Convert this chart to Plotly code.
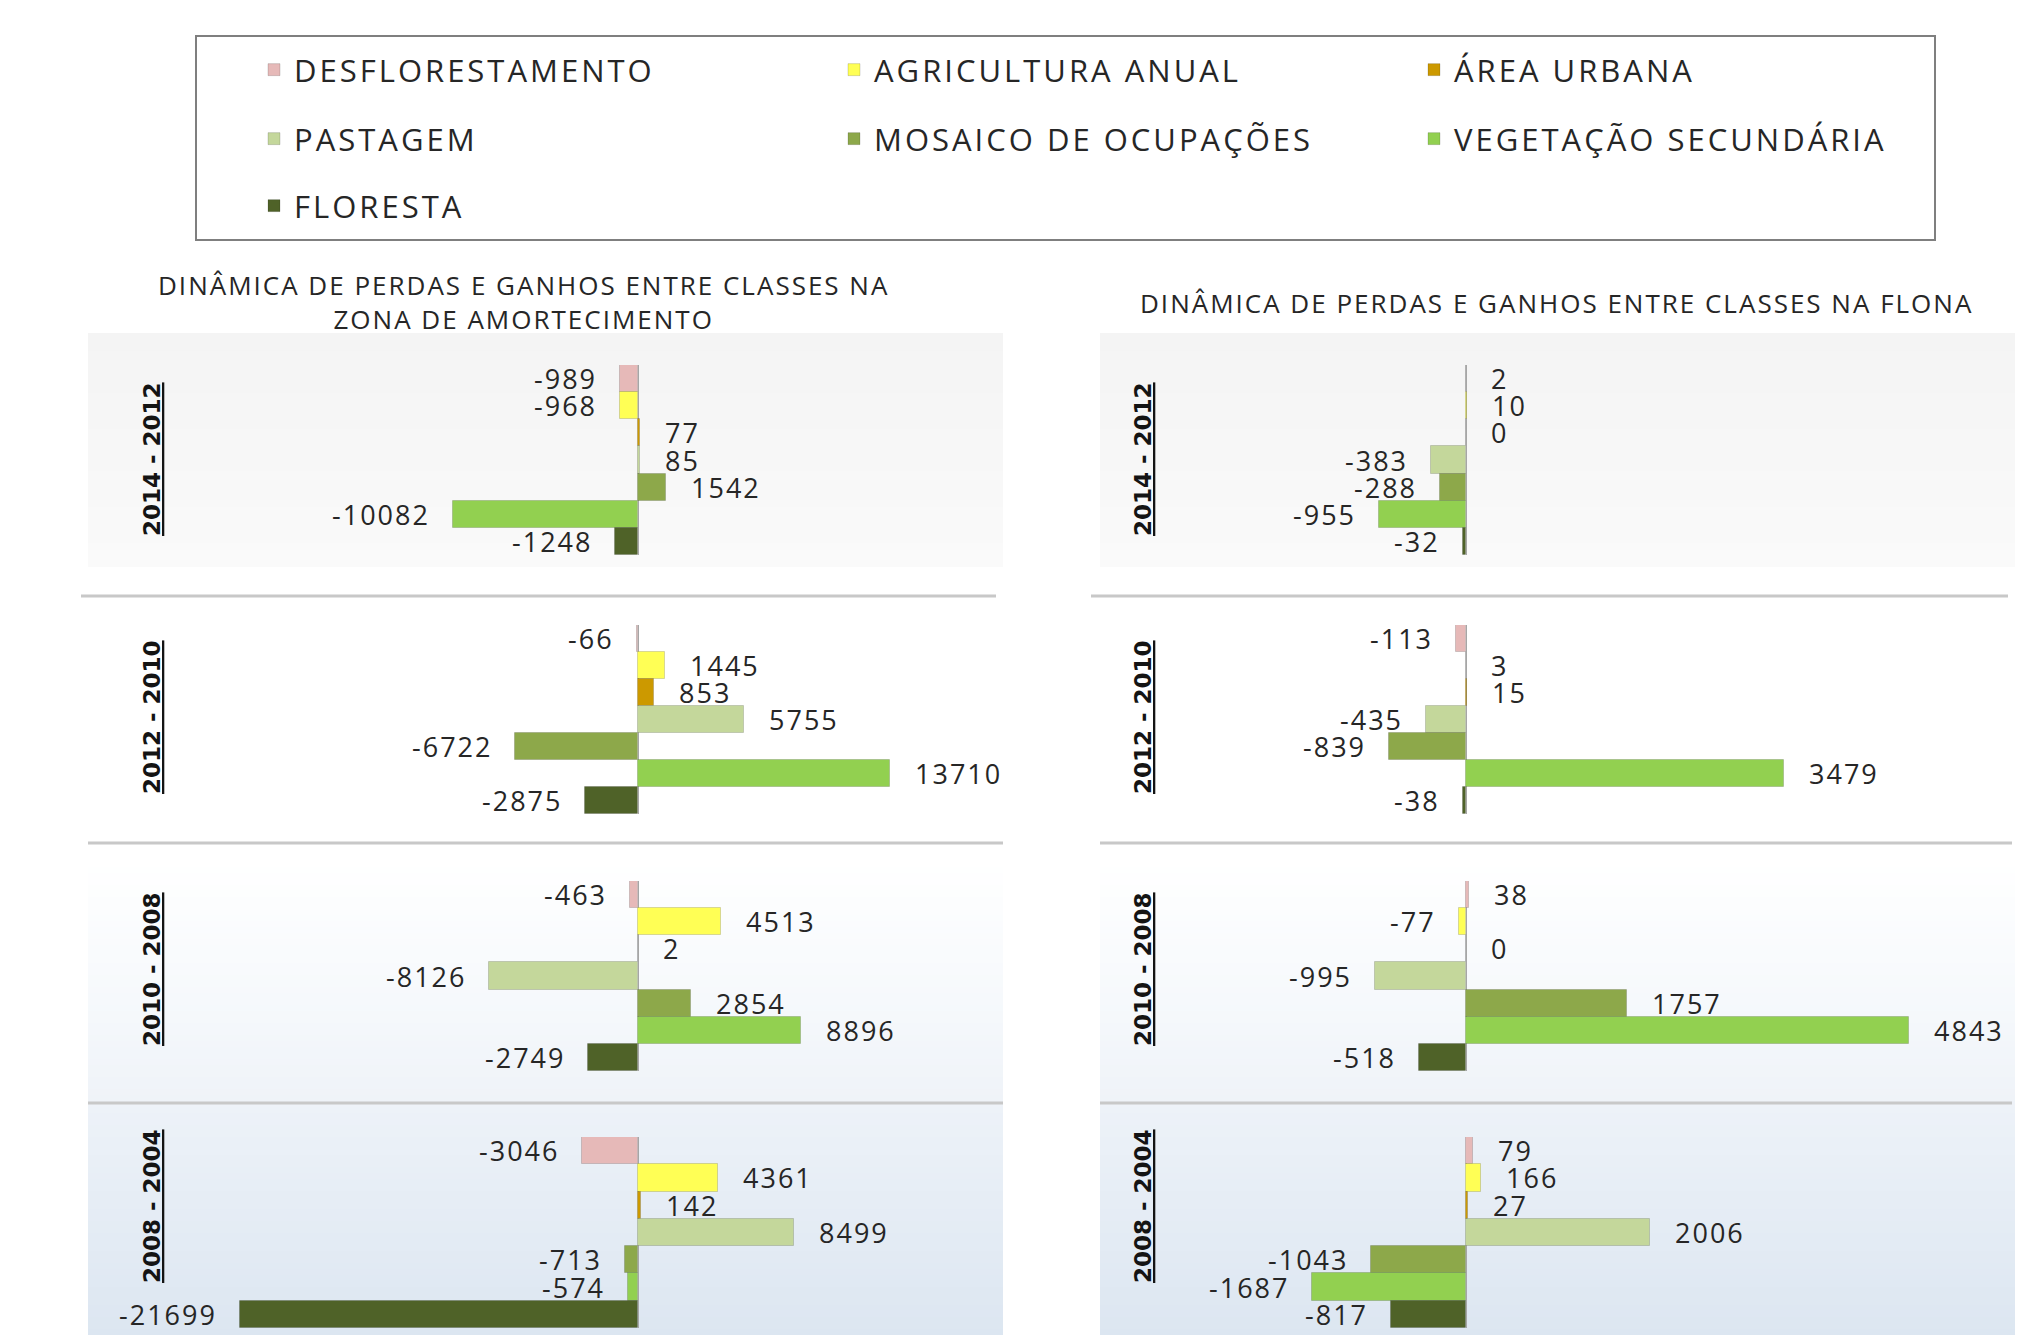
import plotly.graph_objects as go

# ---------------- data ----------------
categories = ["DESFLORESTAMENTO", "AGRICULTURA ANUAL", "ÁREA URBANA", "PASTAGEM",
              "MOSAICO DE OCUPAÇÕES", "VEGETAÇÃO SECUNDÁRIA", "FLORESTA"]
periods = ["2014 - 2012", "2012 - 2010", "2010 - 2008", "2008 - 2004"]

za_2014_2012 = [-989, -968, 77, 85, 1542, -10082, -1248]
za_2012_2010 = [-66, 1445, 853, 5755, -6722, 13710, -2875]
za_2010_2008 = [-463, 4513, 2, -8126, 2854, 8896, -2749]
za_2008_2004 = [-3046, 4361, 142, 8499, -713, -574, -21699]

flona_2014_2012 = [2, 10, 0, -383, -288, -955, -32]
flona_2012_2010 = [-113, 3, 15, -435, -839, 3479, -38]
flona_2010_2008 = [38, -77, 0, -995, 1757, 4843, -518]
flona_2008_2004 = [79, 166, 27, 2006, -1043, -1687, -817]

title_za = "DINÂMICA DE PERDAS E GANHOS ENTRE CLASSES NA<br>ZONA DE AMORTECIMENTO"
title_flona = "DINÂMICA DE PERDAS E GANHOS ENTRE CLASSES NA FLONA"

colors = ["#e6b9b8", "#ffff55", "#cc9900", "#c4d79b", "#8da84a", "#92d050", "#4f6228"]

za_series = [za_2014_2012, za_2012_2010, za_2010_2008, za_2008_2004]
flona_series = [flona_2014_2012, flona_2012_2010, flona_2010_2008, flona_2008_2004]

# ---------------- layout geometry (page pixels) ----------------
OFF = 8                      # default body margin of the html page
W, H = 2025 - OFF, 1336 - OFF
row_px = [(365, 555), (625, 814), (881, 1071), (1137, 1328)]
col_px = [(88, 1005), (1100, 2015)]
col_range = [[-30000, 20000], [-4000, 6000]]
year_x = [152, 1143]
year_y = [459, 717, 969, 1206]


def px(x):
    return (x - OFF) / W


def py(y):
    return 1 - (y - OFF) / H


fig = go.Figure()
layout_axes = {}
annotations = []
legend_of = {0: "legend", 1: "legend", 2: "legend", 3: "legend2", 4: "legend2", 5: "legend2", 6: "legend3"}

label_font = dict(family="Open Sans, sans-serif", size=27, color="#262626")
LS = 2

idx = 0
for c, series_list in enumerate([za_series, flona_series]):
    for r, vals in enumerate(series_list):
        idx += 1
        xa = "x" if idx == 1 else f"x{idx}"
        ya = "y" if idx == 1 else f"y{idx}"
        for k, cat in enumerate(categories):
            fig.add_trace(go.Bar(
                x=[vals[k]], y=[cat], orientation="h",
                marker=dict(color=colors[k], line=dict(color="rgba(0,0,0,0.15)", width=1)),
                name=f'<span style="letter-spacing:3px">{cat}</span>',
                legendgroup=cat, showlegend=(idx == 1), legend=legend_of[k],
                xaxis=xa, yaxis=ya, hovertemplate=f"{cat}: %{{x}}<extra></extra>",
            ))
            v = vals[k]
            annotations.append(dict(
                x=v, y=cat, xref=xa, yref=ya, showarrow=False,
                text=f'<span style="letter-spacing:{LS}px">{v}</span>',
                xanchor="left" if v >= 0 else "right",
                xshift=24 if v >= 0 else -22,
                borderpad=0,
                font=label_font,
            ))
        x0, x1 = col_px[c]
        y0, y1 = row_px[r]
        layout_axes["xaxis" if idx == 1 else f"xaxis{idx}"] = dict(
            domain=[px(x0), px(x1)], range=col_range[c], anchor=ya,
            showgrid=False, showticklabels=False, ticks="",
            zeroline=True, zerolinecolor="#a6a6a6", zerolinewidth=1,
            showline=False, fixedrange=True,
        )
        layout_axes["yaxis" if idx == 1 else f"yaxis{idx}"] = dict(
            domain=[py(y1), py(y0)], type="category", categoryorder="array",
            categoryarray=categories, range=[6.5, -0.5], anchor=xa,
            showgrid=False, showticklabels=False, ticks="", zeroline=False,
            showline=False, fixedrange=True,
        )

# year labels
for c in range(2):
    for r, p in enumerate(periods):
        annotations.append(dict(
            x=px(year_x[c]), y=py(year_y[r]), xref="paper", yref="paper",
            text=f"<u>{p}</u>", textangle=-90, showarrow=False,
            xanchor="center", yanchor="middle",
            font=dict(family="DejaVu Sans, sans-serif", size=23, color="#141414", weight="bold"),
        ))

# titles
title_font = dict(family="Open Sans, sans-serif", size=26, color="#262626")
sp = '<span style="letter-spacing:2px">'
annotations.append(dict(
    x=px(523), y=py(302), xref="paper", yref="paper", showarrow=False,
    text=sp + title_za.replace("<br>", "</span><br>" + sp) + "</span>",
    xanchor="center", yanchor="middle", align="center", font=title_font,
))
annotations.append(dict(
    x=px(1556), y=py(303), xref="paper", yref="paper", showarrow=False,
    text=sp + title_flona + "</span>",
    xanchor="center", yanchor="middle", font=title_font,
))

# ---------------- background gradient & separators ----------------
stops = [(333, (244, 244, 244)), (565, (250, 250, 250)), (570, (255, 255, 255)),
         (860, (255, 255, 255)), (1000, (246, 249, 252)), (1100, (239, 243, 248)),
         (1106, (237, 242, 248)), (1336, (220, 230, 241))]


def grad(y):
    for (ya_, ca), (yb, cb) in zip(stops[:-1], stops[1:]):
        if ya_ <= y <= yb:
            t = (y - ya_) / (yb - ya_) if yb > ya_ else 0
            return "rgb(%d,%d,%d)" % tuple(round(a + (b - a) * t) for a, b in zip(ca, cb))
    return "rgb(255,255,255)"


shapes = []
bg_cols = [(88, 1003), (1100, 2015)]
step = 6
for (bx0, bx1) in bg_cols:
    for y in range(333, 1336, step):
        shapes.append(dict(type="rect", xref="paper", yref="paper", layer="below",
                           x0=px(bx0), x1=px(bx1), y0=py(min(y + step, 1336)), y1=py(y),
                           fillcolor=grad(y + step / 2), line=dict(width=0)))

sep_y = [596, 843, 1103]
sep_x = [[(81, 996), (88, 1003), (88, 1003)], [(1091, 2008), (1100, 2012), (1100, 2012)]]
for c in range(2):
    for i, y in enumerate(sep_y):
        sx0, sx1 = sep_x[c][i]
        shapes.append(dict(type="line", xref="paper", yref="paper", layer="below",
                           x0=px(sx0), x1=px(sx1), y0=py(y), y1=py(y),
                           line=dict(color="#c8c8c8", width=3)))

# legend box
shapes.append(dict(type="rect", xref="paper", yref="paper",
                   x0=px(196), x1=px(1935), y0=py(240), y1=py(36),
                   line=dict(color="#7f7f7f", width=2), fillcolor="rgba(0,0,0,0)"))

legend_common = dict(orientation="h", xanchor="left", yanchor="middle",
                     entrywidth=535, entrywidthmode="pixels",
                     bgcolor="rgba(0,0,0,0)", borderwidth=0,
                     font=dict(family="Open Sans, sans-serif", size=31, color="#262626"),
                     itemclick=False, itemdoubleclick=False, traceorder="normal")

LX = 254
fig.update_layout(
    width=W, height=H,
    margin=dict(l=0, r=0, t=0, b=0),
    paper_bgcolor="white", plot_bgcolor="rgba(0,0,0,0)",
    barmode="relative", bargap=0,
    showlegend=True,
    legend=dict(x=px(LX), y=py(70), **legend_common),
    legend2=dict(x=px(LX), y=py(139), **legend_common),
    legend3=dict(x=px(LX), y=py(206), **legend_common),
    annotations=annotations, shapes=shapes,
    **layout_axes,
)

fig.write_html("out.html")
